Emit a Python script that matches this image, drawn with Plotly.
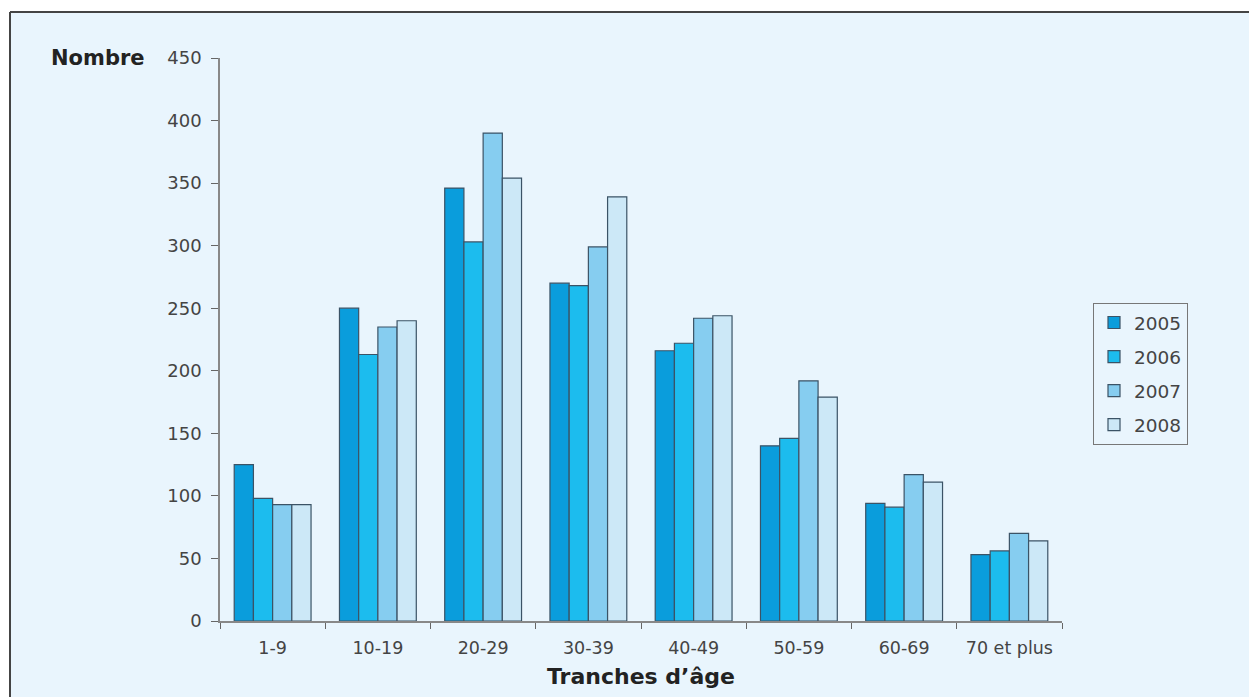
import plotly.graph_objects as go

categories = ["1-9", "10-19", "20-29", "30-39", "40-49", "50-59", "60-69", "70 et plus"]
v2005 = [125, 250, 346, 270, 216, 140, 94, 53]
v2006 = [98, 213, 303, 268, 222, 146, 91, 56]
v2007 = [93, 235, 390, 299, 242, 192, 117, 70]
v2008 = [93, 240, 354, 339, 244, 179, 111, 64]
series = [("2005", v2005, "#0a9ddc"), ("2006", v2006, "#1cbcee"),
          ("2007", v2007, "#86cdf0"), ("2008", v2008, "#cce8f7")]
y_ticks = [0, 50, 100, 150, 200, 250, 300, 350, 400, 450]

FONT = "DejaVu Sans, Liberation Sans, Arial, sans-serif"
OFF = 8  # page body margin
W, H = 1257 - OFF, 697 - OFF
L, T = 220 - OFF, 58 - OFF
pw, ph = 842, 563
R, B = W - L - pw, H - T - ph

def px(x):
    return (x - OFF - L) / pw

def py(y):
    return (T + ph - (y - OFF)) / ph

fig = go.Figure()
for name, vals, col in series:
    fig.add_trace(go.Bar(
        x=categories, y=vals, name=name, legendgroup=name,
        marker=dict(color=col, line=dict(color="#3b5366", width=1.2)),
    ))

fig.update_layout(
    width=W, height=H,
    margin=dict(l=L, r=R, t=T, b=B),
    paper_bgcolor="white",
    plot_bgcolor="white",
    barmode="group",
    bargap=0.27,
    bargroupgap=0,
    font=dict(family=FONT, size=17, color="#444444"),
    xaxis=dict(
        showline=True, linecolor="#888888", linewidth=1.5,
        ticks="outside", tickson="boundaries", ticklen=6, tickcolor="#666666",
        tickfont=dict(size=17.5, color="#444444"),
        ticklabelstandoff=10,
        showgrid=False,
    ),
    yaxis=dict(
        range=[0, 450], tickvals=y_ticks,
        showline=True, linecolor="#888888", linewidth=1.5,
        ticks="outside", ticklen=7, tickcolor="#666666",
        tickfont=dict(size=18, color="#444444"),
        ticklabelstandoff=6,
        showgrid=False, zeroline=False,
    ),
    legend=dict(
        x=px(1093), y=py(303), xanchor="left", yanchor="top",
        bgcolor="rgba(0,0,0,0)", bordercolor="#777777", borderwidth=1,
        font=dict(size=18.5, color="#444444"),
        tracegroupgap=7, traceorder="grouped",
    ),
    shapes=[
        dict(type="rect", xref="paper", yref="paper", layer="below",
             x0=px(10), x1=px(1255), y0=py(705), y1=py(12),
             fillcolor="#e9f5fd", line=dict(width=0)),
        dict(type="line", xref="paper", yref="paper",
             x0=px(10), x1=px(1257), y0=py(12), y1=py(12),
             line=dict(color="#444444", width=2)),
        dict(type="line", xref="paper", yref="paper",
             x0=px(10), x1=px(10), y0=py(12), y1=py(705),
             line=dict(color="#444444", width=2)),
        dict(type="line", xref="paper", yref="paper",
             x0=px(1255), x1=px(1255), y0=py(12), y1=py(705),
             line=dict(color="#c8cdd2", width=2)),
    ],
    annotations=[
        dict(text="<b>Nombre</b>", xref="paper", yref="paper",
             x=px(147), y=py(58), xanchor="right", yanchor="middle",
             showarrow=False, font=dict(size=21, color="#222222", family=FONT)),
        dict(text="<b>Tranches d’âge</b>", xref="paper", yref="paper",
             x=px(641), y=py(676), xanchor="center", yanchor="middle",
             showarrow=False, font=dict(size=22, color="#222222", family=FONT)),
    ],
)

fig.write_html("out.html")
